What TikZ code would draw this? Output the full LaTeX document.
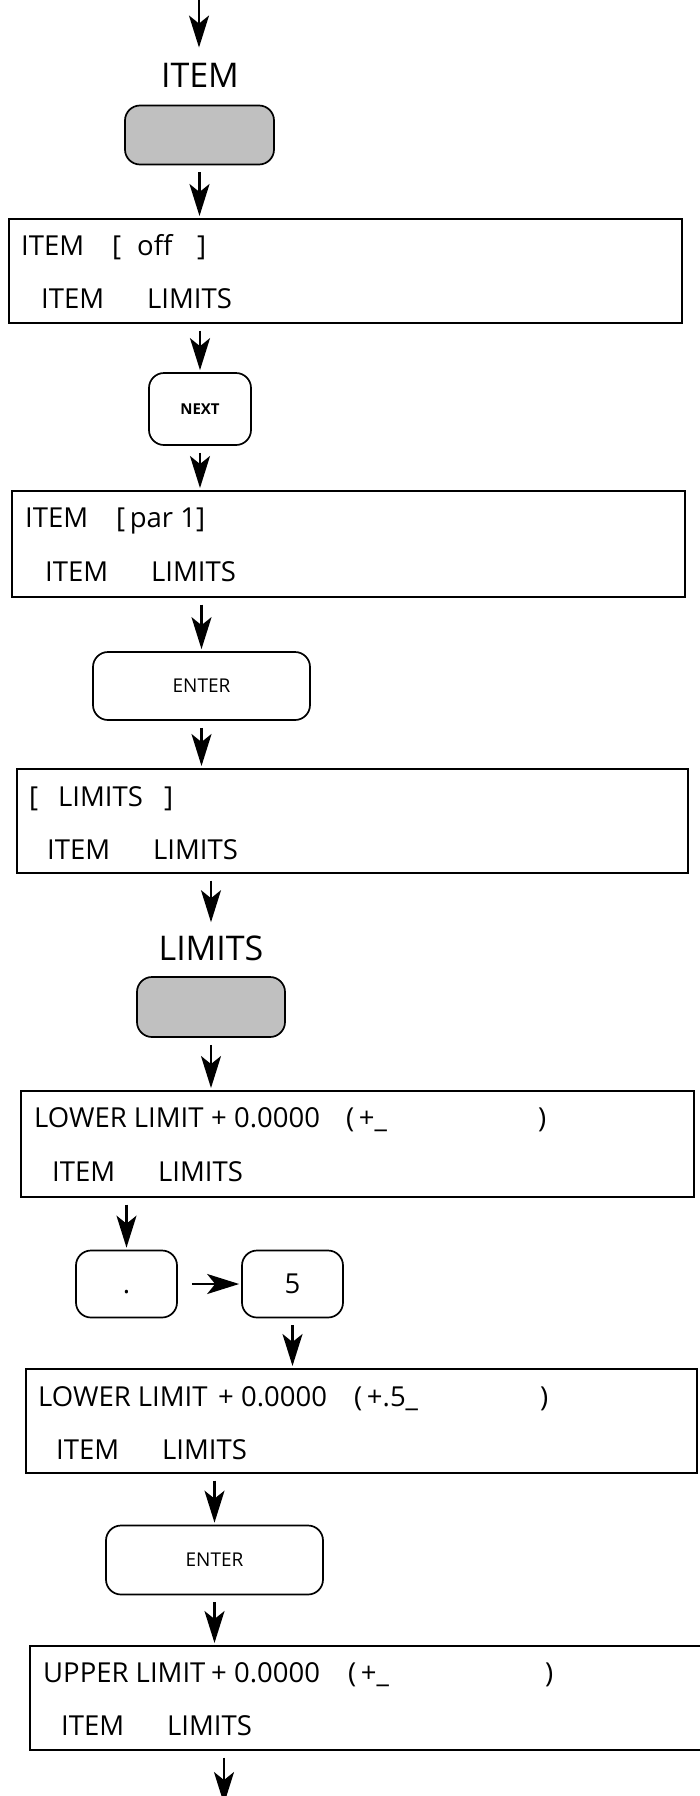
\documentclass[tikz,border=0pt]{standalone}
\usepackage{fontspec}
\setmainfont{Open Sans}
\usepackage{xcolor}
\definecolor{grisTecla}{HTML}{C0C0C0}
\usepackage{tikz}
\usetikzlibrary{arrows.meta,positioning,calc}

\tikzset{
  lcd/.style={draw,line width=1.7pt,anchor=north west,inner sep=0pt},
  lcdtext/.style={font=\fontsize{27.5}{29}\selectfont,inner sep=0pt,anchor=base west},
  softkey/.style={draw,line width=1.7pt,rounded corners=15pt,inner sep=0pt},
  hardkey/.style={softkey,fill=grisTecla},
  keylabel/.style={font=\fontsize{34}{36}\selectfont,inner sep=0pt,anchor=base},
  flecha/.style={-{Stealth[length=32pt,width=20pt,inset=8pt]},line width=2.2pt,
    shorten <=7pt,shorten >=2pt},
}

\begin{document}
\begin{tikzpicture}[x=1pt,y=-1pt]
\useasboundingbox (0,0) rectangle (699,1796);

% Tecla ITEM
\coordinate (entrada) at (199,-4);
\node[keylabel] (lblitem) at (200,87) {ITEM};
\node[hardkey,minimum width=149pt,minimum height=59pt] (kitem) at (199.5,135) {};

% Pantalla 1
\node[lcd,minimum width=673pt,minimum height=104pt] (pant1) at (8,218) {};
\node[lcdtext] (p1a) at (21,255)
    {\makebox[91pt][l]{ITEM}\makebox[25pt][l]{[}\makebox[60pt][l]{off}]};
\node[lcdtext] (p1b) at (41,308) {\makebox[106pt][l]{ITEM}LIMITS};

% Tecla NEXT
\node[softkey,minimum width=102pt,minimum height=72pt,
    font=\fontsize{15}{16}\selectfont\bfseries] (knext) at (200,409) {NEXT};

% Pantalla 2
\node[lcd,minimum width=673pt,minimum height=106pt] (pant2) at (11,490) {};
\node[lcdtext] (p2a) at (25,527) {\makebox[91pt][l]{ITEM}[\,par 1]};
\node[lcdtext] (p2b) at (45,581) {\makebox[106pt][l]{ITEM}LIMITS};

% Tecla ENTER
\node[softkey,minimum width=217pt,minimum height=68pt,
    font=\fontsize{19}{20}\selectfont] (kenter1) at (201.5,686) {ENTER};

% Pantalla 3
\node[lcd,minimum width=671pt,minimum height=104pt] (pant3) at (16,768) {};
\node[lcdtext] (p3a) at (29,806)
    {\makebox[29pt][l]{[}\makebox[106pt][l]{LIMITS}]};
\node[lcdtext] (p3b) at (47,859) {\makebox[106pt][l]{ITEM}LIMITS};

% Tecla LIMITS
\node[keylabel] (lbllim) at (211,960) {LIMITS};
\node[hardkey,minimum width=148pt,minimum height=60pt] (kshade2) at (211,1007) {};

% Pantalla 4
\node[lcd,minimum width=673pt,minimum height=106pt] (pant4) at (20,1090) {};
\node[lcdtext] (p4a) at (34,1127)
    {\makebox[177pt][l]{LOWER LIMIT}\makebox[135pt][l]{+ 0.0000}\makebox[192pt][l]{(\,+\_})};
\node[lcdtext] (p4b) at (52,1181) {\makebox[106pt][l]{ITEM}LIMITS};

% Teclas . y 5
\node[softkey,minimum width=101pt,minimum height=67pt,
    font=\fontsize{27.5}{29}\selectfont] (kdot) at (126.5,1284) {\vphantom{5}.};
\node[softkey,minimum width=101pt,minimum height=67pt,
    font=\fontsize{27.5}{29}\selectfont] (kfive) at (292.5,1284) {5};

% Pantalla 5
\node[lcd,minimum width=671pt,minimum height=104pt] (pant5) at (25,1368) {};
\node[lcdtext] (p5a) at (38,1406)
    {\makebox[180pt][l]{LOWER LIMIT}\makebox[136pt][l]{+ 0.0000}\makebox[186pt][l]{(\,+.5\_})};
\node[lcdtext] (p5b) at (56,1459) {\makebox[106pt][l]{ITEM}LIMITS};

% Tecla ENTER
\node[softkey,minimum width=217pt,minimum height=69pt,
    font=\fontsize{19}{20}\selectfont] (kenter2) at (214.5,1560) {ENTER};

% Pantalla 6
\node[lcd,minimum width=672pt,minimum height=104pt] (pant6) at (29,1645) {};
\node[lcdtext] (p6a) at (43,1682)
    {\makebox[168pt][l]{UPPER LIMIT}\makebox[137pt][l]{+ 0.0000}\makebox[197pt][l]{(\,+\_})};
\node[lcdtext] (p6b) at (61,1735) {\makebox[106pt][l]{ITEM}LIMITS};
\coordinate (salida) at (224,1806);

% Flechas
\draw[flecha,shorten <=0pt,shorten >=15pt] (entrada) -- (entrada |- lblitem.north);
\draw[flecha] (kitem.south) -- (kitem.south |- pant1.north);
\draw[flecha] (pant1.south -| knext.north) -- (knext.north);
\draw[flecha] (knext.south) -- (knext.south |- pant2.north);
\draw[flecha] (pant2.south -| kenter1.north) -- (kenter1.north);
\draw[flecha] (kenter1.south) -- (kenter1.south |- pant3.north);
\draw[flecha,shorten >=13pt] (pant3.south -| lbllim.north) -- (lbllim.north);
\draw[flecha] (kshade2.south) -- (kshade2.south |- pant4.north);
\draw[flecha] (pant4.south -| kdot.north) -- (kdot.north);
\draw[flecha,shorten <=14pt] (kdot.east) -- (kfive.west);
\draw[flecha] (kfive.south) -- (kfive.south |- pant5.north);
\draw[flecha] (pant5.south -| kenter2.north) -- (kenter2.north);
\draw[flecha] (kenter2.south) -- (kenter2.south |- pant6.north);
\draw[flecha] (pant6.south -| salida) -- (salida);

\end{tikzpicture}
\end{document}
